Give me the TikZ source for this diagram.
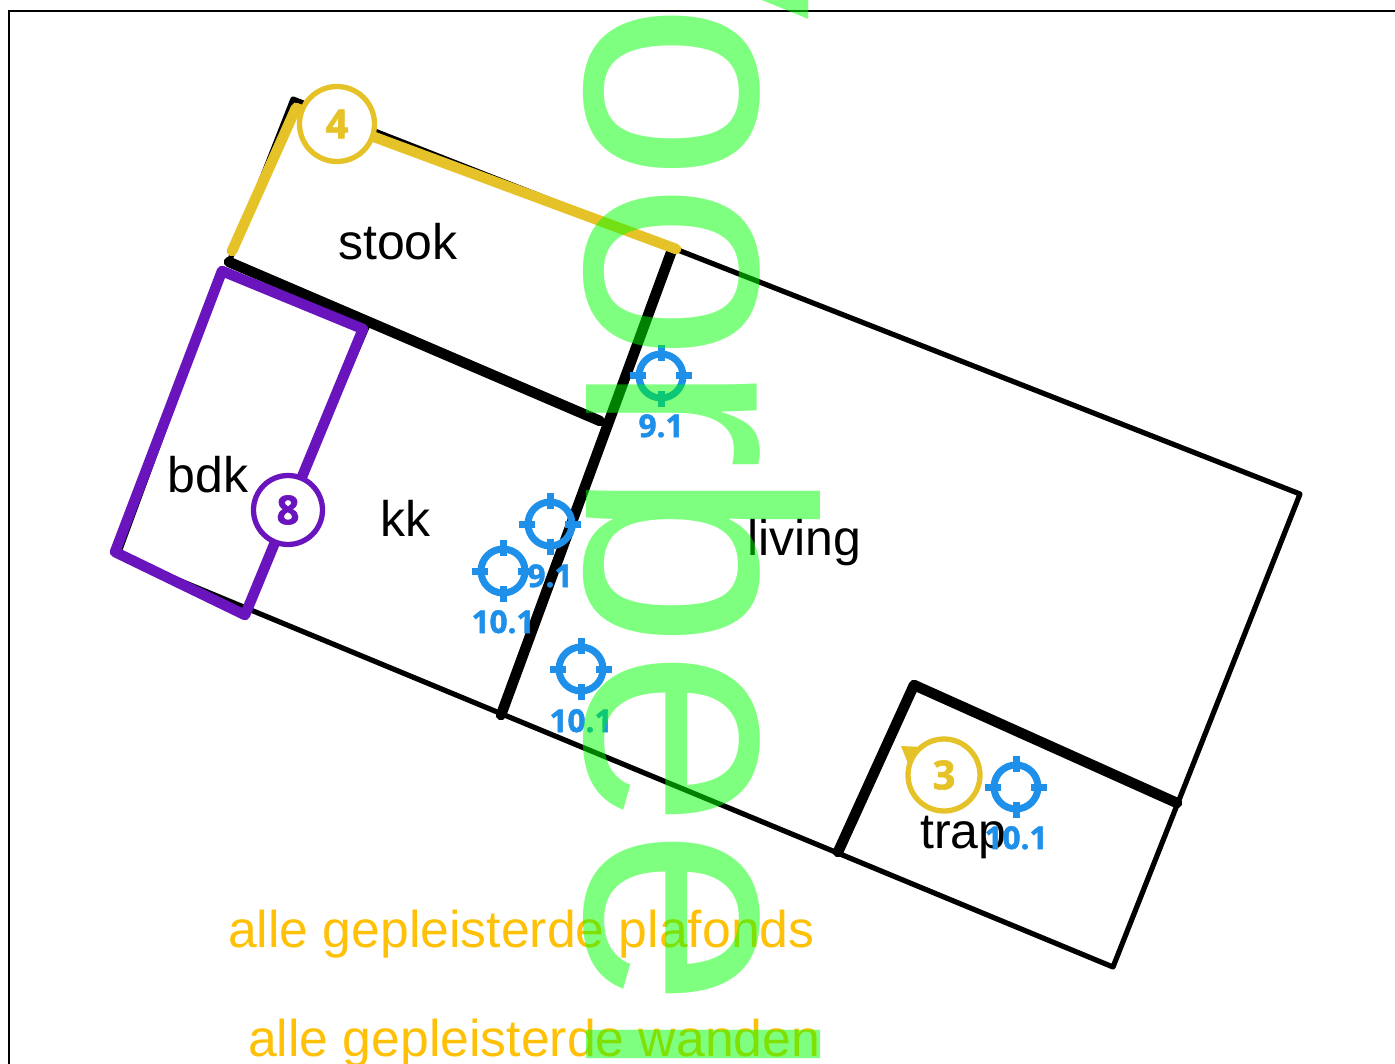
\documentclass[tikz,border=0pt]{standalone}
\usepackage{fontspec}
\setmainfont{Liberation Sans}
\newfontfamily\badgefont[BoldFeatures={FakeBold=1.6}]{Open Sans}
\usetikzlibrary{positioning}
\definecolor{badgeyellow}{RGB}{230,194,41}
\definecolor{badgepurple}{RGB}{106,20,190}
\definecolor{targetblue}{RGB}{30,144,234}
\definecolor{noteorange}{RGB}{255,193,7}
\tikzset{
  thinwall/.style={line width=5.2pt, line cap=round, line join=round},
  thickwall/.style={line width=10.5pt, line cap=round, line join=round},
  roomlabel/.style={anchor=base west, inner sep=0pt, font=\fontsize{50}{60}\selectfont},
  notelabel/.style={anchor=base west, inner sep=0pt, text=noteorange, font=\fontsize{51.7}{60}\selectfont},
  badge/.style={circle, draw=#1, fill=white, text=#1, line width=5.3pt, inner sep=0pt,
    font=\badgefont\bfseries\fontsize{40}{48}\selectfont},
  target/.style={circle, draw=targetblue, line width=7pt, minimum size=44pt, inner sep=0pt},
  targettick/.style={draw=targetblue, line width=7pt},
  targetlabel/.style={anchor=base, inner sep=0pt, text=targetblue,
    font=\badgefont\bfseries\fontsize{31.5}{36}\selectfont},
  watermark/.style={anchor=base west, inner sep=0pt, rotate=-90, text=green, text opacity=.5,
    font=\fontsize{323}{330}\selectfont}
}
\begin{document}
\begin{tikzpicture}[x=1pt,y=-1pt]
  \useasboundingbox (0,0) rectangle (1395,1064);
  \clip (0,0) rectangle (1395,1064);
  \draw[line width=2.5pt] (9,11) rectangle (1430,1100);
  % corners of the plan
  \coordinate (topleft) at (293,99);
  \coordinate (topright) at (1300,494);
  \coordinate (botright) at (1113,967);
  \coordinate (botleft) at (118,555);
  \coordinate (bdkleft) at (222,272);
  \coordinate (stookleft) at (229,262);
  \coordinate (stookright) at (672,250);
  \coordinate (stookend) at (600,421);
  \coordinate (wallfoot) at (501,715);
  \coordinate (trapcorner) at (914,685);
  \coordinate (trapright) at (1177,803);
  \coordinate (trapfoot) at (838,852);
  \coordinate (bdktop) at (367,327);
  \coordinate (bdkfoot) at (245,612);
  \draw[thinwall] (stookleft) -- (topleft) -- (topright) -- (botright) -- (botleft) -- (bdkleft);
  \draw[thinwall] (bdktop) -- (bdkfoot);
  \draw[thickwall] (stookleft) -- (stookend);
  \draw[thickwall] (stookright) -- (wallfoot);
  \draw[thickwall] (trapfoot) -- (trapcorner) -- (trapright);
  % marked walls
  \coordinate (yellowa) at (232,251);
  \coordinate (yellowb) at (296,108);
  \coordinate (yellowc) at (676,249);
  \draw[badgeyellow, thickwall] (yellowa) -- (yellowb) -- (yellowc);
  \coordinate (purplea) at (222,271);
  \coordinate (purpleb) at (363,329);
  \coordinate (purplec) at (245,615);
  \coordinate (purpled) at (115,552);
  \draw[badgepurple, line width=10.5pt, line join=round] (purplea) -- (purpleb) -- (purplec) -- (purpled) -- cycle;
  \node[badge=badgeyellow, minimum size=75pt] (badgefour) at (337,124){4};
  \node[badge=badgepurple, minimum size=69pt] (badgeeight) at (288,510){8};
  \coordinate (pointera) at (901,746);
  \coordinate (pointerb) at (922,747);
  \coordinate (pointerc) at (909,766);
  \fill[badgeyellow] (pointera) -- (pointerb) -- (pointerc) -- cycle;
  \node[badge=badgeyellow, minimum size=72pt] (badgethree) at (944,775){3};
  % rooms
  \node[roomlabel] (stook) at (338,260){stook};
  \node[roomlabel] (bdk) at (167.5,492){bdk};
  \node[roomlabel] (kk) at (380.5,536){kk};
  \node[roomlabel] (living) at (747,555){living};
  \node[roomlabel] (trap) at (920,848){trap};
  % targets
  \foreach \tid/\tx/\ty/\tbase/\ttext in {a/661/376/437/9.1, b/550/524/587/9.1, c/503/571/633/10.1, d/581/669/732/10.1, e/1016/787/849/10.1}{
    \node[target] (t\tid) at (\tx,\ty){};
    \foreach \a in {0,90,180,270}
      \draw[targettick] ([shift={(\a:15)}]t\tid.center) -- ([shift={(\a:31)}]t\tid.center);
    \node[targetlabel] (l\tid) at (\tx,\tbase){\ttext};
  }
  % notes
  \node[notelabel] (notea) at (228,947){alle gepleisterde plafonds};
  \node[notelabel] (noteb) at (248,1056){alle gepleisterde wanden};
  \node[watermark] (mark) at (586,-195){Voorbeeld};
\end{tikzpicture}
\end{document}
